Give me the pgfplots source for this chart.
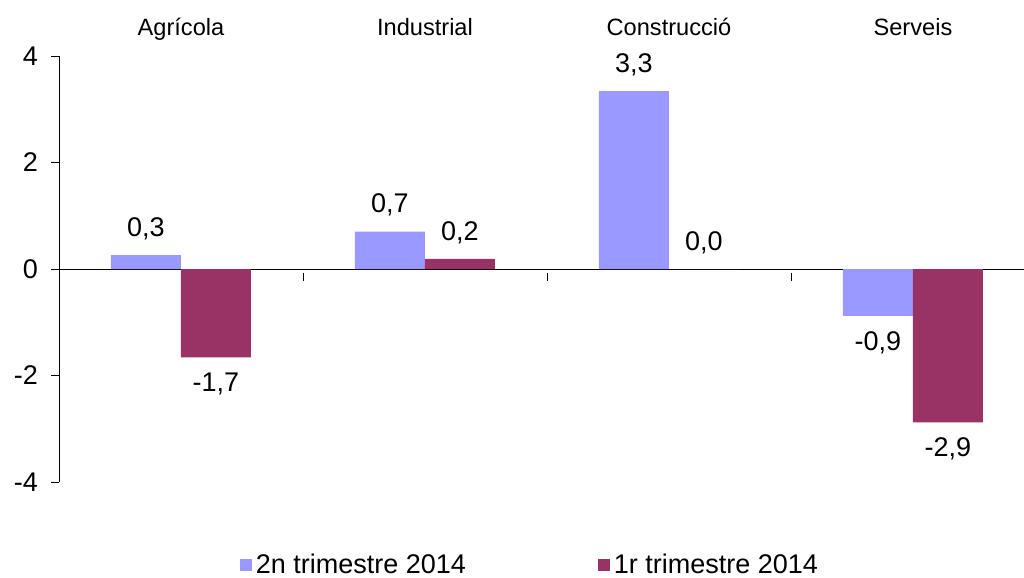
\documentclass[border=0pt]{standalone}
\usepackage{pgfplots}
\pgfplotsset{compat=1.18}
\usepackage{fontspec}
\setmainfont{Liberation Sans}
\definecolor{blau}{HTML}{9999FF}
\definecolor{grana}{HTML}{993366}
\begin{document}
\begin{tikzpicture}
\begin{axis}[
  scale only axis,
  width=482.5pt, height=213pt,
  xmin=-0.5, xmax=3.455,
  ymin=-4, ymax=4,
  axis x line=middle,
  axis y line=left,
  axis line style={-, black},
  xtick={0.5,1.5,2.5},
  xticklabels={},
  x tick style={black, yshift=-2pt},
  xtick align=center,
  ytick={-4,-2,0,2,4},
  ytick align=outside,
  y tick style={black},
  major tick length=4pt,
  yticklabel style={font=\fontsize{13.5}{16}\selectfont, xshift=-3pt},
  /pgf/number format/assume math mode=true,
  ybar=0pt, bar width=35pt,
  clip=false,
  nodes near coords,
  nodes near coords style={font=\fontsize{13.5}{16}\selectfont, inner ysep=7.5pt,
    /pgf/number format/.cd, fixed, fixed zerofill, precision=1, use comma, assume math mode=true},
  legend columns=2,
  legend style={draw=none, fill=none, at={(0.489,0)}, anchor=south, yshift=-49.5pt,
    font=\fontsize{13.5}{16}\selectfont, inner sep=0pt,
    /tikz/every even column/.append style={column sep=64pt}},
  legend image code/.code={\fill[#1] (0pt,-3pt) rectangle (6pt,3pt);},
]
\addplot[fill=blau, draw=none] coordinates {(0,0.26) (1,0.70) (2,3.34) (3,-0.88)};
\addplot[fill=grana, draw=none] coordinates {(0,-1.66) (1,0.19) (2,0.0) (3,-2.88)};
\legend{2n trimestre 2014, 1r trimestre 2014}
\node[anchor=base, font=\fontsize{11.8}{14}\selectfont] at ([yshift=10.5pt]axis cs:0,4) {Agrícola};
\node[anchor=base, font=\fontsize{11.8}{14}\selectfont] at ([yshift=10.5pt]axis cs:1,4) {Industrial};
\node[anchor=base, font=\fontsize{11.8}{14}\selectfont] at ([yshift=10.5pt]axis cs:2,4) {Construcció};
\node[anchor=base, font=\fontsize{11.8}{14}\selectfont] at ([yshift=10.5pt]axis cs:3,4) {Serveis};
\end{axis}
\pgfresetboundingbox
\useasboundingbox (-29.5pt,-48pt) rectangle (482.5pt,241pt);
\end{tikzpicture}
\end{document}
